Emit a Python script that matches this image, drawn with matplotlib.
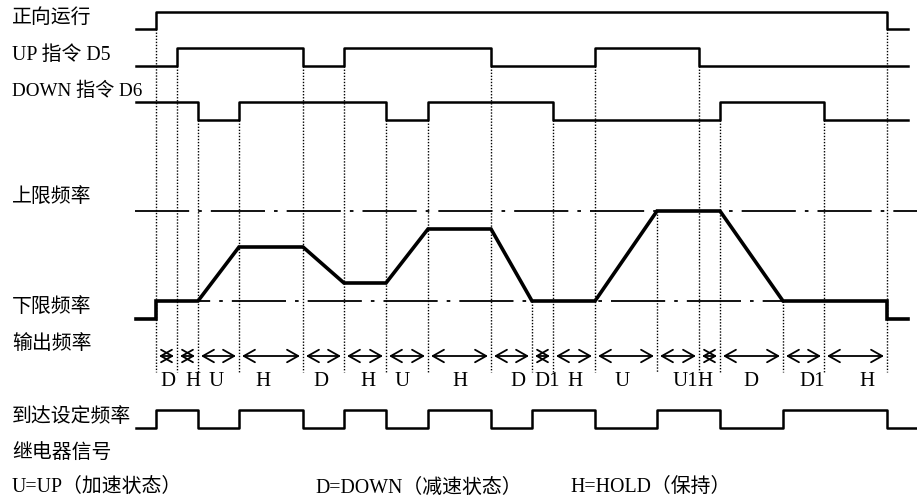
import matplotlib.pyplot as plt

plt.rcParams['font.family'] = ['Liberation Serif', 'Noto Sans CJK SC']

# ── Timing data (time axis in drawing units) ────────────────
T_START, T_END = 136, 908

# Boundaries between the operating states
EVENTS = [156, 177, 198, 239, 303, 344, 386, 428, 491, 532, 553, 595,
          657, 699, 720, 783, 824, 887]

# Digital signals: initial level + toggle times
RUN_INIT, RUN_EDGES = 0, [156, 887]
UP_INIT, UP_EDGES = 0, [177, 303, 344, 491, 595, 699]
DOWN_INIT, DOWN_EDGES = 1, [198, 239, 386, 428, 553, 720, 824]
RELAY_INIT, RELAY_EDGES = 0, [156, 198, 239, 303, 344, 386, 428, 491,
                              532, 595, 657, 720, 783, 887]

# Output frequency: 0 = lower limit, 1 = upper limit
FREQ_T = [136, 156, 156, 198, 239, 303, 344, 386, 428, 491, 532, 595,
          657, 720, 783, 887, 887, 908]
FREQ_V = [-0.2, -0.2, 0, 0, 0.6, 0.6, 0.2, 0.2, 0.8, 0.8, 0, 0,
          1, 1, 0, 0, -0.2, -0.2]

STATE_LABELS = ["D", "H", "U", "H", "D", "H", "U", "H", "D", "D1", "H",
                "U", "U1", "H", "D", "D1", "H"]
STATE_LABEL_X = [168, 193, 216, 263, 321, 368, 402, 460, 518, 547, 575,
                 622, 685, 705, 751, 812, 867]

ROW_NAMES = ["正向运行", "UP 指令 D5", "DOWN 指令 D6", "上限频率", "下限频率",
             "输出频率", "到达设定频率", "继电器信号"]
LEGEND = ["U=UP（加速状态）", "D=DOWN（减速状态）", "H=HOLD（保持）"]

# ── Layout ──────────────────────────────────────────────────
RUN_Y = (30, 13)      # (low, high)
UP_Y = (67, 49)
DOWN_Y = (121, 103)
RELAY_Y = (429, 411)
F_LOW, F_HIGH = 302, 212
ARROW_Y, LABEL_Y = 357, 382
NAME_Y = [18, 55, 91, 198, 308, 345, 418, 453]
NAME_SIZE = [14.3, 14.3, 13.8, 14.3, 14.3, 14.3, 14.3, 14.3]
LEGEND_X = [12, 315, 570]
LEGEND_Y = 488

fig = plt.figure(figsize=(9.17, 5.02), dpi=100)
ax = fig.add_axes([0, 0, 1, 1])
ax.set_xlim(0, 917)
ax.set_ylim(502, 0)
ax.axis("off")


def levels(init, edges):
    xs, ys, lv = [T_START], [init], init
    for e in edges:
        lv = 1 - lv
        xs.append(e)
        ys.append(lv)
    xs.append(T_END)
    ys.append(lv)
    return xs, ys


def draw_digital(init, edges, rows, t_end=T_END):
    xs, ys = levels(init, edges)
    xs[-1] = t_end
    low, high = rows
    yy = [low + v * (high - low) for v in ys]
    ax.step(xs, yy, where="post", color="black", lw=1.8)


draw_digital(RUN_INIT, RUN_EDGES, RUN_Y)
draw_digital(UP_INIT, UP_EDGES, UP_Y)
draw_digital(DOWN_INIT, DOWN_EDGES, DOWN_Y)
draw_digital(RELAY_INIT, RELAY_EDGES, RELAY_Y, t_end=917)

# limit lines (dash-dot)
dashdot = (0, (30, 5, 2, 5))
ax.plot([135, 917], [F_HIGH, F_HIGH], color="black", lw=1.3, ls=dashdot)
ax.plot([156, 887], [F_LOW, F_LOW], color="black", lw=1.3, ls=dashdot)

# output frequency
fy = [F_LOW + v * (F_HIGH - F_LOW) for v in FREQ_V]
ax.plot(FREQ_T, fy, color="black", lw=2.6, solid_joinstyle="miter")


def freq_at(t):
    for i in range(len(FREQ_T) - 1):
        if FREQ_T[i] <= t <= FREQ_T[i + 1] and FREQ_T[i + 1] > FREQ_T[i]:
            f = (t - FREQ_T[i]) / (FREQ_T[i + 1] - FREQ_T[i])
            v = FREQ_V[i] + f * (FREQ_V[i + 1] - FREQ_V[i])
            return F_LOW + v * (F_HIGH - F_LOW)
    return F_LOW


# dotted event lines, starting at the signal that causes them
for t in EVENTS:
    if t in RUN_EDGES:
        y0 = RUN_Y[0]
    elif t in UP_EDGES:
        y0 = UP_Y[0]
    elif t in DOWN_EDGES:
        y0 = DOWN_Y[0]
    else:
        y0 = freq_at(t)
    ax.plot([t, t], [y0, 373], color="black", lw=1.0, ls=(0, (1, 1.2)))

# state arrows
for a, b in zip(EVENTS[:-1], EVENTS[1:]):
    ax.annotate("", xy=(b - 3, ARROW_Y), xytext=(a + 3, ARROW_Y),
                arrowprops=dict(arrowstyle="<->,head_length=0.8,head_width=0.45",
                                color="black", lw=1.3, shrinkA=0, shrinkB=0,
                                mutation_scale=10))

for lab, x in zip(STATE_LABELS, STATE_LABEL_X):
    ax.text(x, LABEL_Y, lab, ha="center", va="center", fontsize=15)

for name, y, s in zip(ROW_NAMES, NAME_Y, NAME_SIZE):
    ax.text(12, y, name, ha="left", va="center", fontsize=s)

for txt, x in zip(LEGEND, LEGEND_X):
    ax.text(x, LEGEND_Y, txt, ha="left", va="center", fontsize=14.3)

fig.savefig("out.png", dpi=100, facecolor="white")
